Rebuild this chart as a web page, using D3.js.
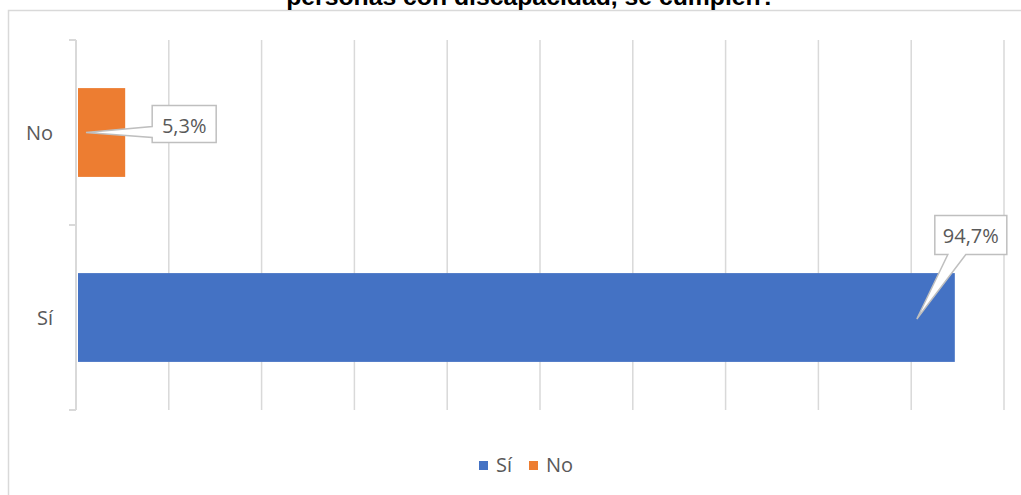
<!DOCTYPE html>
<html>
<head>
<meta charset="utf-8">
<script src="https://cdn.jsdelivr.net/npm/d3@7"></script>
<style>
  html, body { margin: 0; padding: 0; background: #fff; }
  svg { display: block; }
</style>
</head>
<body>
<svg id="chart" width="1021" height="495"></svg>
<script>
const categories = ["No", "Sí"];
const values = [0.053, 0.947];
const valueLabels = ["5,3%", "94,7%"];
const legendLabels = ["Sí", "No"];
const colors = { "Sí": "#4472C4", "No": "#ED7D31" };
const titleText = "personas con discapacidad, se cumplen?";
const xTicks = d3.range(0, 1.0001, 0.1);

const svg = d3.select("#chart");
const font = "'Open Sans', sans-serif";
const textColor = "#595959";
const gridColor = "#d9d9d9";

// frame
svg.append("path")
  .attr("d", "M8.5,495 V10.5 H1021")
  .attr("fill", "none").attr("stroke", gridColor).attr("stroke-width", 1.5);

// title (cut off at top)
const title = svg.append("text")
  .attr("x", 531).attr("y", 5)
  .attr("text-anchor", "middle")
  .attr("font-family", "'Liberation Sans', Arial, sans-serif")
  .attr("font-weight", "bold")
  .attr("font-size", 20)
  .attr("fill", "#000")
  .text(titleText);
const tl = title.node().getComputedTextLength();
title.attr("font-size", 20 * 490 / tl);

const x = d3.scaleLinear().domain([0, 1]).range([76, 1004]);
const y = d3.scaleBand().domain(categories).range([40, 410]).padding(0);
const barH = y.bandwidth() * 0.48;

// gridlines
svg.append("g").selectAll("line").data(xTicks.slice(1)).join("line")
  .attr("x1", d => x(d)).attr("x2", d => x(d))
  .attr("y1", 40).attr("y2", 410)
  .attr("stroke", gridColor).attr("stroke-width", 1.5);

// category axis
const yAxis = d3.axisLeft(y).tickSize(0).tickPadding(0).tickFormat("");
const ga = svg.append("g").attr("transform", "translate(76,0)").call(yAxis);
ga.select(".domain").remove();
ga.append("line").attr("x1", 0).attr("x2", 0).attr("y1", 40).attr("y2", 410)
  .attr("stroke", gridColor).attr("stroke-width", 2);
const boundaries = [y.range()[0]].concat(categories.map(c => y(c) + y.step()));
ga.selectAll(".bt").data(boundaries).join("line").attr("class", "bt")
  .attr("x1", -7).attr("x2", 0).attr("y1", d => d).attr("y2", d => d)
  .attr("stroke", gridColor).attr("stroke-width", 2);
ga.selectAll(".cl").data(categories).join("text").attr("class", "cl")
  .attr("x", -23).attr("y", d => y(d) + y.bandwidth() / 2)
  .attr("dy", "0.35em").attr("text-anchor", "end")
  .attr("font-family", font).attr("font-size", 20).attr("fill", textColor)
  .text(d => d);

// bars
svg.append("g").selectAll("rect").data(categories).join("rect")
  .attr("x", x(0) + 2)
  .attr("y", d => y(d) + (y.bandwidth() - barH) / 2)
  .attr("width", (d, i) => x(values[i]) - x(0) - 2)
  .attr("height", barH)
  .attr("fill", d => colors[d]);

// callouts
const cg = svg.append("g");
categories.forEach((c, i) => {
  const cy = y(c) + y.bandwidth() / 2;
  const xe = x(values[i]);
  let path, tx, ty;
  if (c === "No") {
    const tipX = x(0) + 10, bl = xe + 27, br = bl + 64, bt = cy - 27, bb = cy + 10;
    path = `M${bl},${bt} H${br} V${bb} H${bl} V${cy + 5} L${tipX},${cy} L${bl},${cy - 6} Z`;
    tx = (bl + br) / 2; ty = cy;
  } else {
    const tipX = xe - 38, tipY = cy + 1.5;
    const bl = xe - 20, br = bl + 72, bt = cy - 102, bb = cy - 63;
    path = `M${bl},${bt} H${br} V${bb} H${bl + 31} L${tipX},${tipY} L${bl + 13},${bb} H${bl} Z`;
    tx = (bl + br) / 2; ty = bb - 12;
  }
  cg.append("path").attr("d", path)
    .attr("fill", "#fff").attr("stroke", "#bfbfbf").attr("stroke-width", 1.5)
    .attr("stroke-linejoin", "miter");
  cg.append("text").attr("x", tx).attr("y", ty)
    .attr("text-anchor", "middle")
    .attr("font-family", font).attr("font-size", 20).attr("fill", textColor)
    .text(valueLabels[i]);
});

// legend
const lg = svg.append("g");
const legendX = [479, 529];
legendLabels.forEach((l, i) => {
  lg.append("rect").attr("x", legendX[i]).attr("y", 461).attr("width", 9).attr("height", 9)
    .attr("fill", colors[l]);
  lg.append("text").attr("x", legendX[i] + 17).attr("y", 472)
    .attr("font-family", font).attr("font-size", 20).attr("fill", textColor)
    .text(l);
});
</script>
</body>
</html>
